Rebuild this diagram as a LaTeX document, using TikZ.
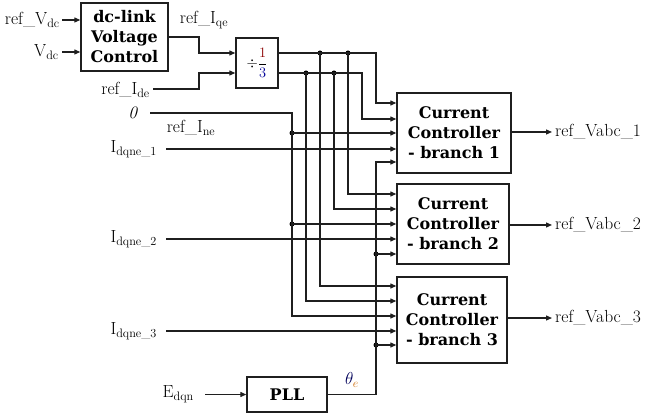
\documentclass[tikz,border=0pt]{standalone}
\usepackage{fontspec}
\newfontfamily\bxf{DejaVu Serif}
\usetikzlibrary{arrows.meta}
\definecolor{wirec}{gray}{0.12}
\begin{document}
\begin{tikzpicture}[x=1pt,y=-1pt,
  wire/.style={line width=1.2pt, draw=wirec},
  arr/.style={wire,-{Triangle[length=6pt,width=5pt]}},
  blk/.style={draw=wirec, line width=1.4pt, fill=white, align=center,
    font=\bxf\bfseries\fontsize{16}{20}\selectfont, inner sep=0pt},
  lbl/.style={font=\fontsize{17.5}{20}\selectfont, inner sep=0pt},
  jdot/.style={circle, fill=black, inner sep=0pt, minimum size=5pt}]
\useasboundingbox (0,0) rectangle (647,419);
% blocks
\node[blk, minimum width=87pt, minimum height=68pt] (dc) at (124.5,37) {dc-link\\Voltage\\Control};
\node[blk, minimum width=42pt, minimum height=50pt] (div) at (257,63)
  {\fontsize{13.5}{14}\selectfont\mdseries $\div\displaystyle\frac{\color{red!55!black}1}{\color{blue!60!black}3}$};
\node[blk, minimum width=114pt, minimum height=80pt] (cc1) at (454,133) {Current\\Controller\\- branch 1};
\node[blk, minimum width=112pt, minimum height=80pt] (cc2) at (453,224) {Current\\Controller\\- branch 2};
\node[blk, minimum width=110pt, minimum height=86pt] (cc3) at (452,320) {Current\\Controller\\- branch 3};
\node[blk, minimum width=80pt, minimum height=35pt] (pll) at (287,394.5) {PLL};
% labels
\node[lbl, anchor=east] (rvdc) at (60,20) {ref\_V\textsubscript{dc}};
\node[lbl, anchor=east] (vdc) at (59,52) {V\textsubscript{dc}};
\node[lbl] (riqe) at (204,20) {ref\_I\textsubscript{qe}};
\node[lbl, anchor=east] (ride) at (150,90) {ref\_I\textsubscript{de}};
\node[lbl] (zero) at (133,113) {\textit{0}};
\node[lbl] (rine) at (191,128) {ref\_I\textsubscript{ne}};
\node[lbl, anchor=east] (id1) at (157,149) {I\textsubscript{dqne\_1}};
\node[lbl, anchor=east] (id2) at (157,239) {I\textsubscript{dqne\_2}};
\node[lbl, anchor=east] (id3) at (157,331) {I\textsubscript{dqne\_3}};
\node[lbl, anchor=east] (edq) at (194,394) {E\textsubscript{dqn}};
\node[lbl, font=\fontsize{17}{18}\selectfont] (th) at (352,380) {$\color{blue!35!black}\theta_{\color{orange!80!black}e}$};
\node[lbl, anchor=west] (o1) at (555,132) {ref\_Vabc\_1};
\node[lbl, anchor=west] (o2) at (555,225) {ref\_Vabc\_2};
\node[lbl, anchor=west] (o3) at (555,318) {ref\_Vabc\_3};
% free ends
\coordinate (s1) at (62,20);
\coordinate (s2) at (62,52);
\coordinate (s3) at (153,89);
\coordinate (s0) at (150,113);
\coordinate (sI1) at (166,149);
\coordinate (sI2) at (166,239);
\coordinate (sI3) at (166,331);
\coordinate (sE) at (205,394.5);
\coordinate (e1) at (552,132);
\coordinate (e2) at (552,225);
\coordinate (e3) at (552,318);
% junctions
\coordinate (ju) at (278,53);
\coordinate (jl) at (278,73);
\node[jdot] (u1) at (320,53) {};
\node[jdot] (u2) at (348,53) {};
\node[jdot] (l1) at (306,73) {};
\node[jdot] (l2) at (334,73) {};
\node[jdot] (z1) at (292,133) {};
\node[jdot] (z2) at (292,224) {};
\node[jdot] (t2) at (376,254) {};
\node[jdot] (t3) at (376,345) {};
% dc-link
\draw[arr] (s1) -- (dc.west |- s1);
\draw[arr] (s2) -- (dc.west |- s2);
\draw[arr] (dc.east) -| (199,53) -- (div.west |- 0,53);
\draw[arr] (s3) -| (199,73) -- (div.west |- 0,73);
% divider outputs
\draw[arr] (div.east |- ju) -| (376,103) -- (cc1.west |- 0,103);
\draw[arr] (div.east |- jl) -| (362,119) -- (cc1.west |- 0,119);
\draw[arr] (u2.center) |- (cc2.west |- 0,194);
\draw[arr] (u1.center) |- (cc3.west |- 0,286);
\draw[arr] (l2.center) |- (cc2.west |- 0,209);
\draw[arr] (l1.center) |- (cc3.west |- 0,301);
% zero reference
\draw[arr] (s0) -| (292,316) -- (cc3.west |- 0,316);
\draw[arr] (z1.center) -- (cc1.west |- z1);
\draw[arr] (z2.center) -- (cc2.west |- z2);
% measured currents
\draw[arr] (sI1) -- (cc1.west |- sI1);
\draw[arr] (sI2) -- (cc2.west |- sI2);
\draw[arr] (sI3) -- (cc3.west |- sI3);
% PLL
\draw[arr] (sE) -- (pll.west);
\draw[arr] (pll.east) -| (376,162) -- (cc1.west |- 0,162);
\draw[arr] (t2.center) -- (cc2.west |- t2);
\draw[arr] (t3.center) -- (cc3.west |- t3);
% outputs
\draw[arr] (cc1.east |- e1) -- (e1);
\draw[arr] (cc2.east |- e2) -- (e2);
\draw[arr] (cc3.east |- e3) -- (e3);
\end{tikzpicture}
\end{document}
